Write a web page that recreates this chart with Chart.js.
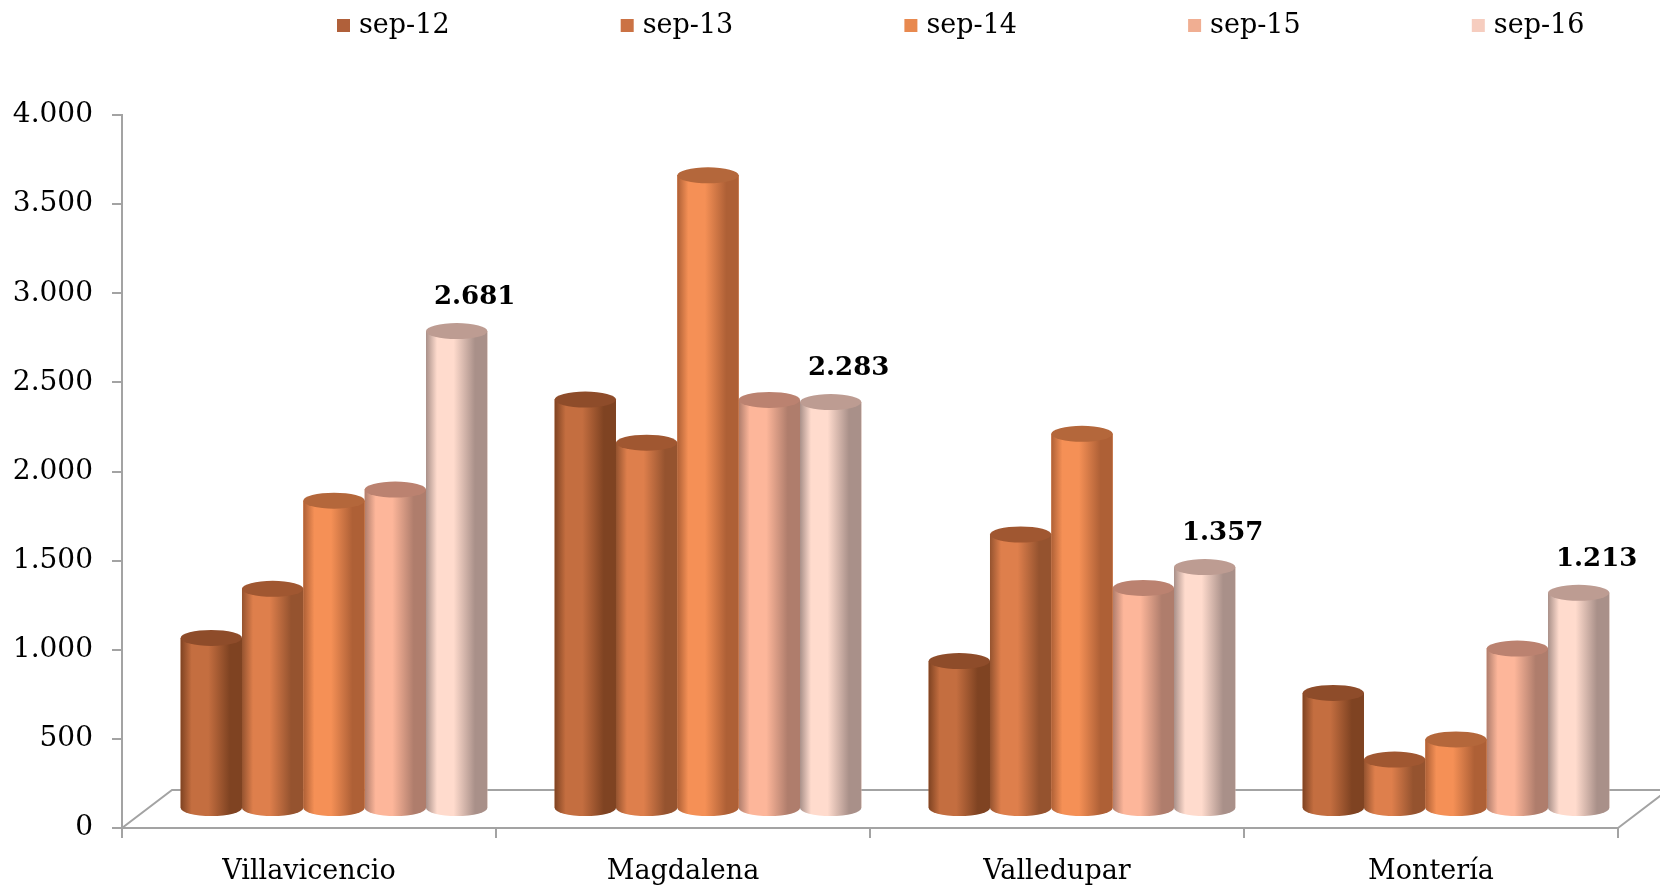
<!DOCTYPE html>
<html>
<head>
<meta charset="utf-8">
<title>sep-12 – sep-16</title>
<script src="https://cdn.jsdelivr.net/npm/chart.js@4/dist/chart.umd.min.js"></script>
<style>
  html, body { margin: 0; padding: 0; background: #ffffff; }
  #wrap { width: 1660px; height: 885px; position: relative; }
</style>
</head>
<body>
<div id="wrap"><canvas id="chart" width="1660" height="885"></canvas></div>
<script>
// ---- data ----
const categories = ['Villavicencio', 'Magdalena', 'Valledupar', 'Montería'];
const seriesNames = ['sep-12', 'sep-13', 'sep-14', 'sep-15', 'sep-16'];
const sep12 = [960, 2297, 830, 651];
const sep13 = [1235, 2055, 1540, 277];
const sep14 = [1730, 3555, 2105, 390];
const sep15 = [1792, 2295, 1240, 900];
const sep16 = [2681, 2283, 1357, 1213];
const yTickValues = [0, 500, 1000, 1500, 2000, 2500, 3000, 3500, 4000];
const labelledSeries = 'sep-16';

// ---- colours ----
const legendColors = ['#B0603A', '#CB7244', '#E8894F', '#F0AE92', '#F6CDBF'];
const bodyLight   = ['#C46E40', '#DE7F4C', '#F59056', '#FDB69A', '#FFDBCD'];
const bodyDark    = ['#7F4322', '#95532F', '#AE6036', '#AF7D6C', '#A99089'];
const capColors   = ['#8E4C2A', '#A05731', '#B4673B', '#BB8270', '#BD9C92'];

const FONT = "'DejaVu Serif', serif";
const AXIS_GREY = '#A3A3A3';
const DEPTH = { x: 50, y: -38 };          // floor depth of the 3D box
const CAP_RY = 8;                          // vertical radius of cylinder ends

const fmt = v => String(v).replace(/\B(?=(\d{3})+(?!\d))/g, '.');

function cylinderGradient(ctx, x0, x1, light, dark) {
  const g = ctx.createLinearGradient(x0, 0, x1, 0);
  g.addColorStop(0.00, dark);
  g.addColorStop(0.18, light);
  g.addColorStop(0.45, light);
  g.addColorStop(0.80, dark);
  g.addColorStop(1.00, dark);
  return g;
}

// Floor of the 3D box, drawn behind the bars
const floorPlugin = {
  id: 'floor',
  beforeDatasetsDraw(chart) {
    const { ctx, chartArea: a } = chart;
    ctx.save();
    ctx.strokeStyle = AXIS_GREY;
    ctx.lineWidth = 2;
    ctx.beginPath();
    ctx.moveTo(a.left, a.bottom);
    ctx.lineTo(a.left + DEPTH.x, a.bottom + DEPTH.y);
    ctx.lineTo(a.right + DEPTH.x, a.bottom + DEPTH.y);
    ctx.moveTo(a.right, a.bottom);
    ctx.lineTo(a.right + DEPTH.x, a.bottom + DEPTH.y);
    ctx.stroke();
    ctx.restore();
    // bars stand half way into the box
    ctx.save();
    ctx.translate(DEPTH.x / 2, DEPTH.y / 2);
  },
  afterDatasetsDraw(chart) {
    chart.ctx.restore();
  }
};

// Cylinder shading and elliptical ends on top of every bar element
const cylinderPlugin = {
  id: 'cylinders',
  afterDatasetDraw(chart, args) {
    const { ctx } = chart;
    const d = args.index;
    const meta = args.meta;
    meta.data.forEach(el => {
      const { x, y, base, width } = el.getProps(['x', 'y', 'base', 'width'], true);
      const x0 = x - width / 2, x1 = x + width / 2, rx = width / 2;
      const grad = cylinderGradient(ctx, x0, x1, bodyLight[d], bodyDark[d]);
      ctx.save();
      // body with rounded bottom
      ctx.beginPath();
      ctx.moveTo(x0, y);
      ctx.lineTo(x0, base);
      ctx.ellipse(x, base, rx, CAP_RY, 0, Math.PI, 0, true);
      ctx.lineTo(x1, y);
      ctx.closePath();
      ctx.fillStyle = grad;
      ctx.fill();
      // top cap
      ctx.beginPath();
      ctx.ellipse(x, y, rx, CAP_RY, 0, 0, Math.PI * 2);
      ctx.fillStyle = capColors[d];
      ctx.fill();
      ctx.restore();
    });
  }
};

// Value labels above the last series
const valueLabelPlugin = {
  id: 'valueLabels',
  afterDatasetsDraw(chart) {
    const { ctx } = chart;
    const d = chart.data.datasets.findIndex(ds => ds.label === labelledSeries);
    if (d < 0) return;
    const meta = chart.getDatasetMeta(d);
    ctx.save();
    ctx.translate(DEPTH.x / 2, DEPTH.y / 2);
    ctx.font = "bold 26px " + FONT;
    ctx.fillStyle = '#000000';
    ctx.textAlign = 'center';
    ctx.textBaseline = 'middle';
    meta.data.forEach((el, i) => {
      const v = chart.data.datasets[d].data[i];
      ctx.fillText(fmt(v), el.x + 18, el.y - 34);
    });
    ctx.restore();
  }
};

// Legend row across the top
const legendPlugin = {
  id: 'topLegend',
  afterDraw(chart) {
    const { ctx } = chart;
    ctx.save();
    ctx.font = "27px " + FONT;
    ctx.textBaseline = 'middle';
    ctx.textAlign = 'left';
    chart.data.datasets.forEach((ds, i) => {
      const bx = 337 + i * 283.7;
      ctx.fillStyle = legendColors[i];
      ctx.fillRect(bx, 19, 13, 13);
      ctx.fillStyle = '#000000';
      ctx.fillText(ds.label, bx + 22, 26);
    });
    ctx.restore();
  }
};

const seriesValues = [sep12, sep13, sep14, sep15, sep16];

new Chart(document.getElementById('chart'), {
  type: 'bar',
  data: {
    labels: categories,
    datasets: seriesNames.map((name, i) => ({
      label: name,
      data: seriesValues[i],
      backgroundColor: bodyLight[i],
      borderWidth: 0,
      categoryPercentage: 0.82,
      barPercentage: 1.0,
      clip: false
    }))
  },
  options: {
    responsive: false,
    animation: false,
    devicePixelRatio: 1,
    layout: { padding: { top: 115, right: 42, bottom: 0, left: 0 } },
    plugins: {
      legend: { display: false },
      tooltip: { enabled: false }
    },
    scales: {
      x: {
        grid: {
          offset: true,
          drawOnChartArea: false,
          drawTicks: true,
          tickLength: 10,
          color: AXIS_GREY,
          lineWidth: 2
        },
        border: { display: true, color: AXIS_GREY, width: 2 },
        ticks: {
          font: { family: FONT, size: 27 },
          color: '#000000',
          padding: 18,
          maxRotation: 0
        },
        afterFit(scale) { scale.height = 57; }
      },
      y: {
        min: 0,
        max: 4000,
        afterBuildTicks(scale) { scale.ticks = yTickValues.map(v => ({ value: v })); },
        grid: {
          drawOnChartArea: false,
          drawTicks: true,
          tickLength: 10,
          color: AXIS_GREY,
          lineWidth: 2
        },
        border: { display: true, color: AXIS_GREY, width: 2 },
        ticks: {
          font: { family: FONT, size: 28 },
          color: '#000000',
          padding: 19,
          callback: v => fmt(v)
        },
        afterFit(scale) { scale.width = 122; }
      }
    }
  },
  plugins: [floorPlugin, cylinderPlugin, valueLabelPlugin, legendPlugin]
});
</script>
</body>
</html>
